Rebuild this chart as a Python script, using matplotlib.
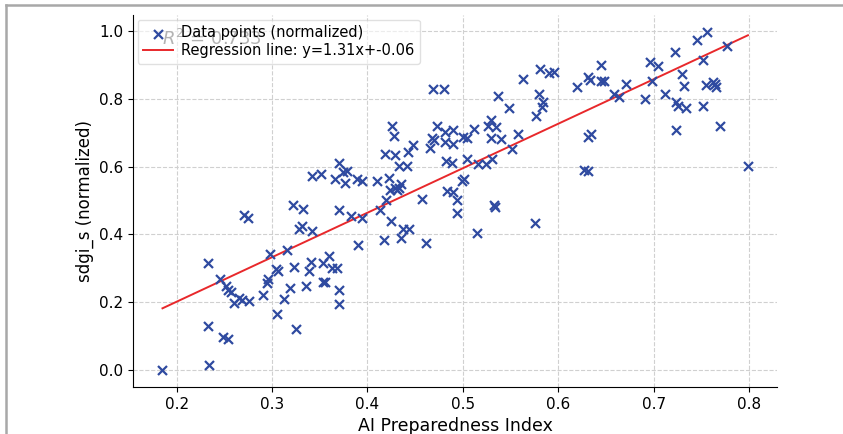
import numpy as np
import matplotlib
matplotlib.use("Agg")
import matplotlib.pyplot as plt
from matplotlib.lines import Line2D

# AI Preparedness Index vs sdgi_s (both normalized)
ai_index = [
    0.185, 0.234, 0.233, 0.248, 0.254, 0.233, 0.245, 0.252, 0.254, 0.257,
    0.260, 0.265, 0.268, 0.276, 0.270, 0.275, 0.290, 0.295, 0.296, 0.298,
    0.305, 0.304, 0.306, 0.312, 0.316, 0.319, 0.322, 0.332, 0.323, 0.325,
    0.328, 0.331, 0.342, 0.336, 0.339, 0.341, 0.353, 0.360, 0.353, 0.355,
    0.363, 0.368, 0.370, 0.370, 0.370, 0.383, 0.394, 0.390, 0.342, 0.351,
    0.370, 0.366, 0.374, 0.378, 0.376, 0.389, 0.394, 0.410, 0.423, 0.426,
    0.428, 0.418, 0.429, 0.413, 0.419, 0.424, 0.429, 0.433, 0.435, 0.431,
    0.433, 0.441, 0.442, 0.448, 0.425, 0.437, 0.444, 0.435, 0.417, 0.457,
    0.461, 0.466, 0.473, 0.468, 0.470, 0.481, 0.490, 0.481, 0.490, 0.482,
    0.489, 0.483, 0.490, 0.494, 0.469, 0.480, 0.500, 0.504, 0.512, 0.504,
    0.516, 0.524, 0.531, 0.526, 0.529, 0.535, 0.529, 0.540, 0.558, 0.552,
    0.537, 0.548, 0.563, 0.581, 0.590, 0.596, 0.580, 0.584, 0.583, 0.577,
    0.499, 0.501, 0.494, 0.533, 0.534, 0.515, 0.576, 0.620, 0.631, 0.633,
    0.645, 0.648, 0.645, 0.658, 0.664, 0.671, 0.691, 0.696, 0.705, 0.698,
    0.712, 0.723, 0.730, 0.732, 0.724, 0.726, 0.734, 0.724, 0.746, 0.756,
    0.752, 0.777, 0.755, 0.762, 0.764, 0.765, 0.752, 0.770, 0.799, 0.631,
    0.634, 0.627, 0.631,
]
sdgi = [
    0.000, 0.014, 0.130, 0.099, 0.092, 0.315, 0.268, 0.248, 0.236, 0.231,
    0.199, 0.213, 0.208, 0.205, 0.457, 0.449, 0.223, 0.258, 0.268, 0.341,
    0.167, 0.297, 0.292, 0.211, 0.355, 0.242, 0.486, 0.476, 0.304, 0.121,
    0.417, 0.425, 0.409, 0.248, 0.292, 0.320, 0.317, 0.337, 0.260, 0.260,
    0.301, 0.301, 0.235, 0.194, 0.472, 0.454, 0.447, 0.369, 0.571, 0.579,
    0.609, 0.562, 0.584, 0.587, 0.552, 0.563, 0.557, 0.558, 0.566, 0.720,
    0.689, 0.636, 0.634, 0.471, 0.501, 0.532, 0.537, 0.538, 0.550, 0.530,
    0.602, 0.602, 0.644, 0.662, 0.440, 0.416, 0.416, 0.390, 0.383, 0.504,
    0.375, 0.656, 0.719, 0.685, 0.679, 0.701, 0.709, 0.673, 0.665, 0.616,
    0.609, 0.528, 0.524, 0.463, 0.827, 0.827, 0.687, 0.685, 0.712, 0.622,
    0.607, 0.606, 0.621, 0.719, 0.736, 0.717, 0.684, 0.681, 0.697, 0.651,
    0.809, 0.771, 0.859, 0.887, 0.876, 0.879, 0.815, 0.790, 0.774, 0.748,
    0.557, 0.562, 0.501, 0.488, 0.481, 0.403, 0.435, 0.834, 0.864, 0.854,
    0.851, 0.851, 0.900, 0.815, 0.805, 0.844, 0.800, 0.908, 0.896, 0.851,
    0.815, 0.936, 0.874, 0.837, 0.789, 0.778, 0.773, 0.707, 0.972, 0.996,
    0.915, 0.954, 0.839, 0.849, 0.842, 0.833, 0.778, 0.719, 0.602, 0.687,
    0.697, 0.591, 0.586,
]

slope, intercept = 1.31, -0.06
r_squared = 0.733

x = np.array(ai_index)
y = np.array(sdgi)

fig = plt.figure(figsize=(8.43, 4.34), dpi=100)
ax = fig.add_axes([0.158, 0.108, 0.764, 0.857])

ax.scatter(x, y, marker='x', color='#2f4aa0', s=42, linewidths=1.6,
           label='Data points (normalized)', zorder=3)
x_line = np.array([x.min(), x.max()])
ax.plot(x_line, slope * x_line + intercept, color='#e8282b', linewidth=1.4,
        label=f'Regression line: y={slope:.2f}x+{intercept:.2f}', zorder=2)

# R^2 note sits behind the legend box, as in the original
ax.text(0.185, 0.975, f'$R^2$ = {r_squared:.3f}', fontsize=13, color='#444444',
        va='center', ha='left', zorder=1)

ax.set_xlabel('AI Preparedness Index', fontsize=12.5)
ax.set_ylabel('sdgi_s (normalized)', fontsize=12)
ax.set_xticks([0.2, 0.3, 0.4, 0.5, 0.6, 0.7, 0.8])
ax.set_yticks([0.0, 0.2, 0.4, 0.6, 0.8, 1.0])
ax.tick_params(labelsize=11)
ax.grid(True, linestyle='--', color='#d0d0d0', linewidth=0.8)
ax.set_axisbelow(True)
ax.spines['top'].set_visible(False)
ax.spines['right'].set_visible(False)
ax.legend(loc='upper left', fontsize=10.5, borderaxespad=0.3, framealpha=0.6,
          handletextpad=0.6, labelspacing=0.2)

# grey frame left and top, as in the screenshot
fig.add_artist(Line2D([6 / 843, 6 / 843], [0, 1 - 5 / 434], color='#a8a8a8', linewidth=1.8))
fig.add_artist(Line2D([6 / 843, 1], [1 - 5 / 434, 1 - 5 / 434], color='#a8a8a8', linewidth=1.8))

fig.savefig('out.png', dpi=100)
